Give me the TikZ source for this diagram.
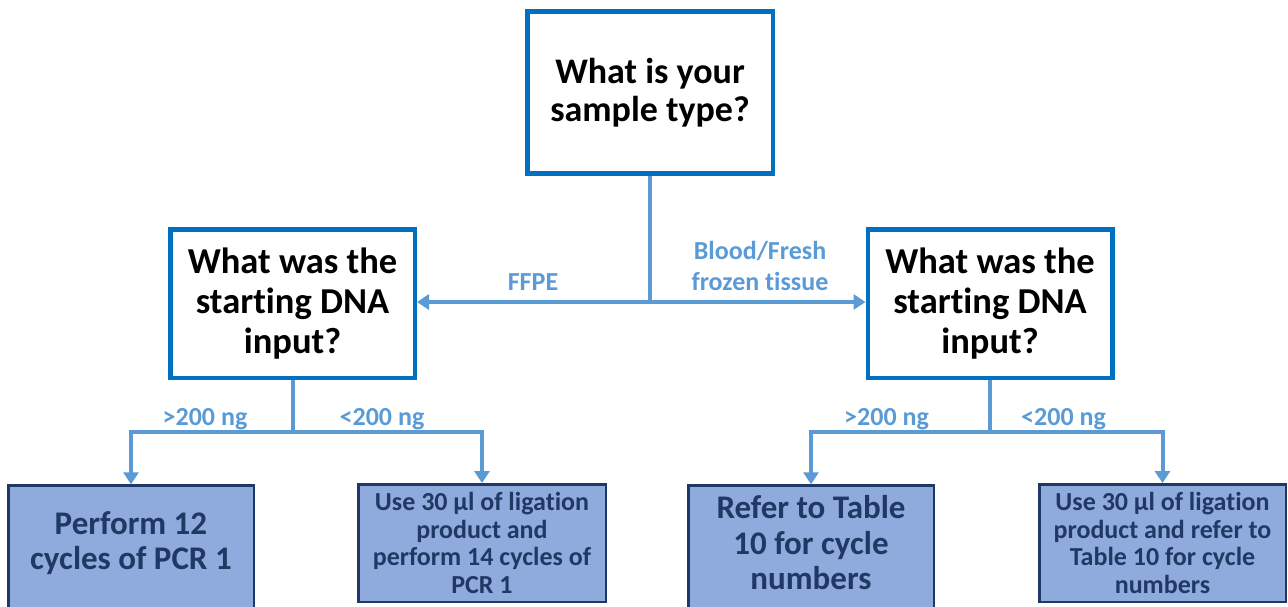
\documentclass[tikz,border=0pt]{standalone}
\usepackage{fontspec}
\setmainfont{Carlito}[Ligatures=NoCommon]
\usetikzlibrary{arrows.meta,calc}
\definecolor{boxblue}{HTML}{0070C0}
\definecolor{connblue}{HTML}{5B9BD5}
\definecolor{fillblue}{HTML}{8FAADC}
\definecolor{navy}{HTML}{1F3864}
\newcommand\myfs[2]{\fontsize{#1}{#2}\selectfont}
\tikzset{
  qbox/.style={draw=boxblue, line width=4.5pt, fill=white, align=center, inner sep=0pt,
    font=\bfseries\myfs{36pt}{38pt}, text=black},
  abox/.style={draw=navy, line width=2.5pt, fill=fillblue, align=center, inner sep=0pt,
    text=navy},
  atext/.style={align=center, inner sep=0pt, text=navy},
  conn/.style={draw=connblue, line width=4pt},
  arr/.style={conn, -{Triangle[width=15pt,length=12pt]}},
  lab/.style={text=connblue, font=\bfseries\myfs{26pt}{31pt}, align=center, inner sep=0pt}
}
\begin{document}
\begin{tikzpicture}[x=1pt,y=-1pt]
\useasboundingbox (0,0) rectangle (1288,606);
\clip (0,0) rectangle (1288,606);
% question boxes
\node[qbox, minimum width=245.5pt, minimum height=162.2pt] (T) at (650,92.5)
  {What is your\\sample type?};
\node[qbox, minimum width=244.5pt, minimum height=148.5pt, font=\bfseries\myfs{36.5pt}{40pt}] (L) at (292.5,303.5)
  {What was the\\starting DNA\\input?};
\node[qbox, minimum width=244.5pt, minimum height=148.5pt, font=\bfseries\myfs{36.5pt}{40pt}] (R) at (990,303.5)
  {What was the\\starting DNA\\input?};
% answer boxes
\node[abox, anchor=north, minimum width=245.5pt, minimum height=140pt] (B1) at (131,484.25) {};
\node[atext, font=\bfseries\myfs{33pt}{35.5pt}] (B1t) at (131,543) {Perform 12\\cycles of PCR 1};
\node[abox, minimum width=247.5pt, minimum height=117.5pt, font=\bfseries\myfs{26pt}{27.5pt}] (B2) at (482,543)
  {Use 30 µl of ligation\\product and\\perform 14 cycles of\\PCR 1};
\node[abox, anchor=north, minimum width=245.5pt, minimum height=140pt] (B3) at (811,484.25) {};
\node[atext, font=\bfseries\myfs{33pt}{35.5pt}] (B3t) at (811,543) {Refer to Table\\10 for cycle\\numbers};
\node[abox, minimum width=246.5pt, minimum height=117.5pt, font=\bfseries\myfs{26pt}{27.5pt}] (B4) at (1162.5,543)
  {Use 30 µl of ligation\\product and refer to\\Table 10 for cycle\\numbers};
% connectors
\coordinate (TJ) at (T.south |- 0,302);
\draw[conn] (T.south) -- (TJ);
\draw[arr] (TJ) -- (TJ -| L.east);
\draw[arr] (TJ) -- (TJ -| R.west);
\coordinate (LJ) at (L.south |- 0,431.5);
\draw[conn] (L.south) -- (LJ);
\draw[arr] (LJ) -| (B1.north);
\draw[arr] (LJ) -| (B2.north);
\coordinate (RJ) at (R.south |- 0,431.5);
\draw[conn] (R.south) -- (RJ);
\draw[arr] (RJ) -| (B3.north);
\draw[arr] (RJ) -| (B4.north);
% labels
\node[lab] (lffpe) at (533,282) {FFPE};
\node[lab] (lblood) at (760,266) {Blood/Fresh\\frozen tissue};
\node[lab] (l1) at (205,419) {>200 ng};
\node[lab] (l2) at (382,419) {<200 ng};
\node[lab] (l3) at (886.5,419) {>200 ng};
\node[lab] (l4) at (1063.5,419) {<200 ng};
\end{tikzpicture}
\end{document}
